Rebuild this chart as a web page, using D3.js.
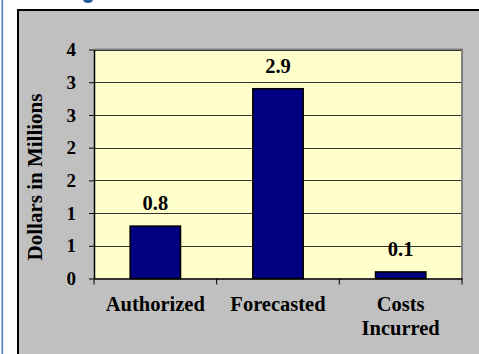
<!DOCTYPE html>
<html>
<head>
<meta charset="utf-8">
<script src="https://cdn.jsdelivr.net/npm/d3@7"></script>
<style>
html,body{margin:0;padding:0;background:#fff;}
svg{display:block;}
text{font-family:"Liberation Serif","Times New Roman",serif;font-weight:bold;fill:#000;}
</style>
</head>
<body>
<svg id="c" width="479" height="354"></svg>
<script>
const categories = ["Authorized", "Forecasted", "Costs Incurred"];
const categoryLines = [["Authorized"], ["Forecasted"], ["Costs", "Incurred"]];
const values = [0.8, 2.9, 0.1];
const valueLabels = ["0.8", "2.9", "0.1"];
const tickValues = [0, 0.5, 1, 1.5, 2, 2.5, 3, 3.5];
const tickLabels = ["0", "1", "1", "2", "2", "3", "3", "4"];
const yTitle = "Dollars in Millions";

const svg = d3.select("#c");

// slide background pieces
svg.append("rect").attr("x", 1.5).attr("y", 0).attr("width", 1.6).attr("height", 354).attr("fill", "#4A7EC0");
// clipped descender of the slide title above the chart
svg.append("path").attr("d", "M83,0 Q84,3 88,3 Q92,3 93,0 Z").attr("fill", "#1F5A96");

// chart area
svg.append("rect").attr("x", 18).attr("y", 10).attr("width", 470).attr("height", 360)
  .attr("fill", "#C0C0C0").attr("stroke", "#000").attr("stroke-width", 2);

const L = 94, R = 462, T = 49.5, B = 278.5;
const x = d3.scaleBand().domain(categories).range([L, R]).padding(0);
const y = d3.scaleLinear().domain([0, 3.5]).range([B, T]);

// plot area
svg.append("rect").attr("x", L).attr("y", T).attr("width", R - L).attr("height", B - T)
  .attr("fill", "#FFFFCC");
svg.append("path").attr("d", `M${L},${T}H${R}V${B}`).attr("fill", "none")
  .attr("stroke", "#808080").attr("stroke-width", 2);

// gridlines
svg.append("g").selectAll("line").data(tickValues.slice(1)).join("line")
  .attr("x1", L).attr("x2", R - 1)
  .attr("y1", d => Math.round(y(d)) + 0.5).attr("y2", d => Math.round(y(d)) + 0.5)
  .attr("stroke", "#333").attr("stroke-width", 1);

// y axis
const yAxis = d3.axisLeft(y).tickValues(tickValues).tickFormat((d, i) => tickLabels[i])
  .tickSize(5).tickSizeOuter(0).tickPadding(13);
const gy = svg.append("g").attr("transform", `translate(${L},0)`).call(yAxis);
gy.select(".domain").attr("stroke", "#000").attr("stroke-width", 1.5);
gy.selectAll(".tick line").attr("stroke", "#000");
gy.selectAll(".tick text").style("font-size", "19px").style("font-family", "'Liberation Serif','Times New Roman',serif").style("font-weight", "bold").attr("fill", "#000");

// bars
const barW = x.bandwidth() * 0.41;
svg.append("g").selectAll("rect").data(values).join("rect")
  .attr("x", (d, i) => x(categories[i]) + (x.bandwidth() - barW) / 2)
  .attr("y", d => y(d))
  .attr("width", barW)
  .attr("height", d => B - y(d))
  .attr("fill", "#000080").attr("stroke", "#000").attr("stroke-width", 1.6);

// x axis
const xAxis = d3.axisBottom(x).tickSize(0).tickFormat("");
const gx = svg.append("g").attr("transform", `translate(0,${B})`).call(xAxis);
gx.select(".domain").attr("stroke", "#000").attr("stroke-width", 1.5);
const boundaries = [L].concat(categories.map(c => x(c) + x.bandwidth()));
svg.append("g").selectAll("line").data(boundaries).join("line")
  .attr("x1", d => d).attr("x2", d => d).attr("y1", B).attr("y2", B + 6)
  .attr("stroke", "#000").attr("stroke-width", 1);

// category labels
categories.forEach((c, i) => {
  const t = svg.append("text").attr("text-anchor", "middle").style("font-size", "20.5px")
    .attr("x", x(c) + x.bandwidth() / 2).attr("y", 311);
  categoryLines[i].forEach((ln, j) => {
    t.append("tspan").attr("x", x(c) + x.bandwidth() / 2).attr("dy", j === 0 ? 0 : 24).text(ln);
  });
});

// value labels
svg.append("g").selectAll("text").data(values).join("text")
  .attr("text-anchor", "middle").style("font-size", "20.5px")
  .attr("x", (d, i) => x(categories[i]) + x.bandwidth() / 2)
  .attr("y", d => y(d) - 16)
  .text((d, i) => valueLabels[i]);

// y title
svg.append("text").attr("text-anchor", "middle").style("font-size", "21px")
  .attr("transform", "translate(42,177) rotate(-90)").text(yTitle);
</script>
</body>
</html>
